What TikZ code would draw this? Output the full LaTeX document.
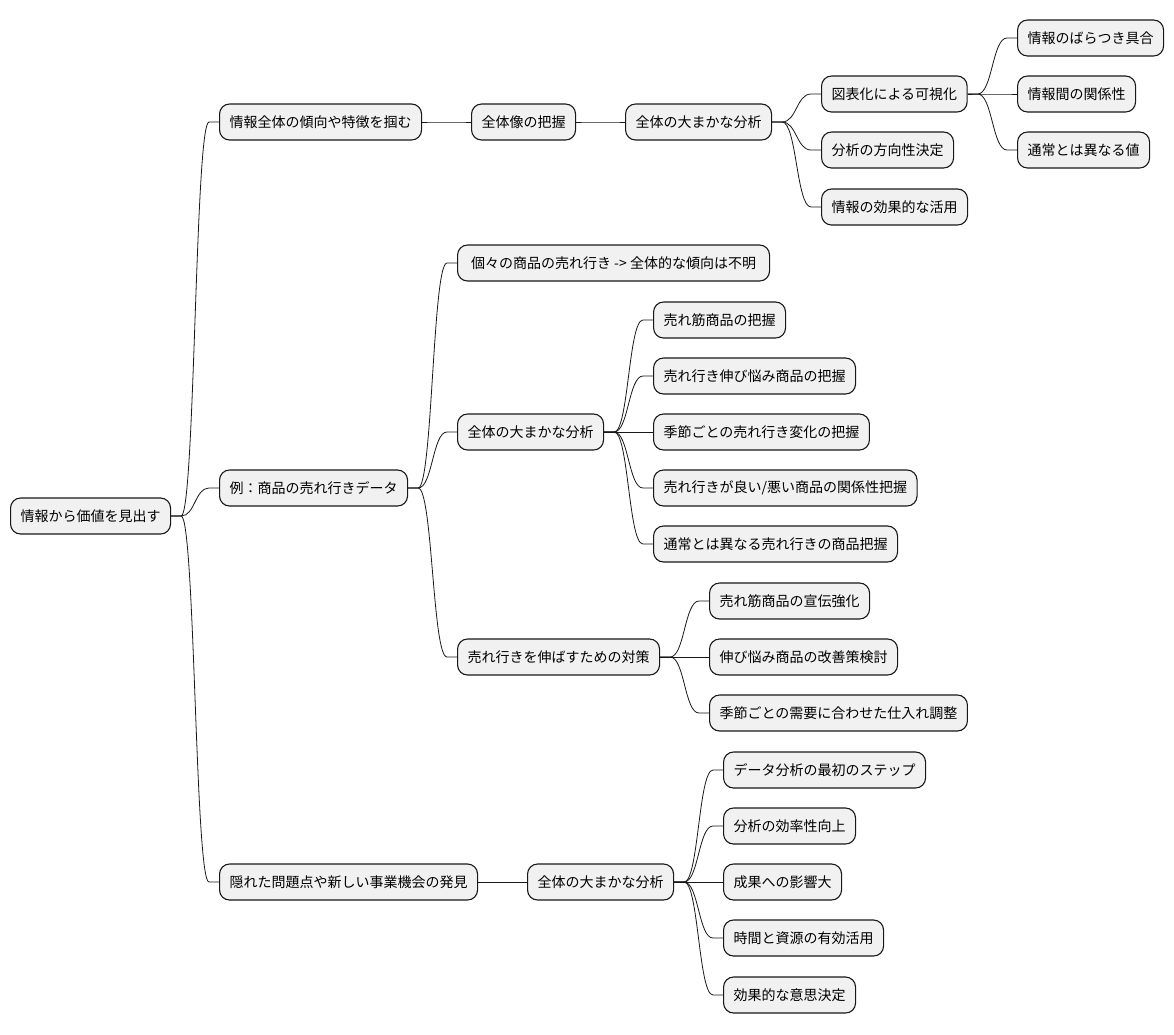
\documentclass[tikz,border=0pt]{standalone}
\usepackage{fontspec}
\setmainfont{Noto Sans CJK JP}
\usetikzlibrary{calc}
\definecolor{mmfill}{HTML}{F1F1F1}
\definecolor{mmline}{HTML}{181818}
\tikzset{
  mm/.style={draw=mmline, fill=mmfill, rounded corners=10pt, line width=1.1pt,
    minimum height=36pt, inner xsep=10pt, inner ysep=0pt, anchor=west,
    font=\fontsize{14pt}{16pt}\selectfont},
  link/.style={draw=mmline, line width=0.8pt}
}
\newcommand\mmlink[2]{%
  \draw[link] let \p1=(#1.east), \p2=(#2.west) in
    (\p1) -- (\x1+10pt,\y1) .. controls (0.5*\x1+0.5*\x2,\y1) and (0.5*\x1+0.5*\x2,\y2) .. (\x2-10pt,\y2) -- (\p2);}
\begin{document}
\begin{tikzpicture}[x=1pt,y=-1pt]
\useasboundingbox (0,0) rectangle (1174,1034);
\node[mm] (root) at (10,516) {情報から価値を見出す};
\node[mm] (a) at (219,122) {情報全体の傾向や特徴を掴む};
\node[mm] (b) at (219,488) {例：商品の売れ行きデータ};
\node[mm] (c) at (219,882) {隠れた問題点や新しい事業機会の発見};
% A branch
\node[mm] (a1) at (471,122) {全体像の把握};
\node[mm] (a2) at (625,122) {全体の大まかな分析};
\node[mm] (a3) at (821,94) {図表化による可視化};
\node[mm] (a31) at (1017,38) {情報のばらつき具合};
\node[mm] (a32) at (1017,94) {情報間の関係性};
\node[mm] (a33) at (1017,150) {通常とは異なる値};
\node[mm] (a4) at (821,150) {分析の方向性決定};
\node[mm] (a5) at (821,207) {情報の効果的な活用};
% B branch
\node[mm, minimum width=312pt] (b1) at (457,263) {個々の商品の売れ行き\ ->\ 全体的な傾向は不明};
\node[mm] (b2) at (457,432) {全体の大まかな分析};
\node[mm] (b21) at (653,320) {売れ筋商品の把握};
\node[mm] (b22) at (653,376) {売れ行き伸び悩み商品の把握};
\node[mm] (b23) at (653,432) {季節ごとの売れ行き変化の把握};
\node[mm] (b24) at (653,488) {売れ行きが良い/悪い商品の関係性把握};
\node[mm] (b25) at (653,544) {通常とは異なる売れ行きの商品把握};
\node[mm] (b3) at (457,657) {売れ行きを伸ばすための対策};
\node[mm] (b31) at (709,601) {売れ筋商品の宣伝強化};
\node[mm] (b32) at (709,657) {伸び悩み商品の改善策検討};
\node[mm] (b33) at (709,713) {季節ごとの需要に合わせた仕入れ調整};
% C branch
\node[mm] (c1) at (527,882) {全体の大まかな分析};
\node[mm] (c11) at (723,770) {データ分析の最初のステップ};
\node[mm] (c12) at (723,826) {分析の効率性向上};
\node[mm] (c13) at (723,882) {成果への影響大};
\node[mm] (c14) at (723,938) {時間と資源の有効活用};
\node[mm] (c15) at (723,995) {効果的な意思決定};
% links
\mmlink{root}{a}\mmlink{root}{b}\mmlink{root}{c}
\mmlink{a}{a1}\mmlink{a1}{a2}
\mmlink{a2}{a3}\mmlink{a2}{a4}\mmlink{a2}{a5}
\mmlink{a3}{a31}\mmlink{a3}{a32}\mmlink{a3}{a33}
\mmlink{b}{b1}\mmlink{b}{b2}\mmlink{b}{b3}
\mmlink{b2}{b21}\mmlink{b2}{b22}\mmlink{b2}{b23}\mmlink{b2}{b24}\mmlink{b2}{b25}
\mmlink{b3}{b31}\mmlink{b3}{b32}\mmlink{b3}{b33}
\mmlink{c}{c1}
\mmlink{c1}{c11}\mmlink{c1}{c12}\mmlink{c1}{c13}\mmlink{c1}{c14}\mmlink{c1}{c15}
\end{tikzpicture}
\end{document}
